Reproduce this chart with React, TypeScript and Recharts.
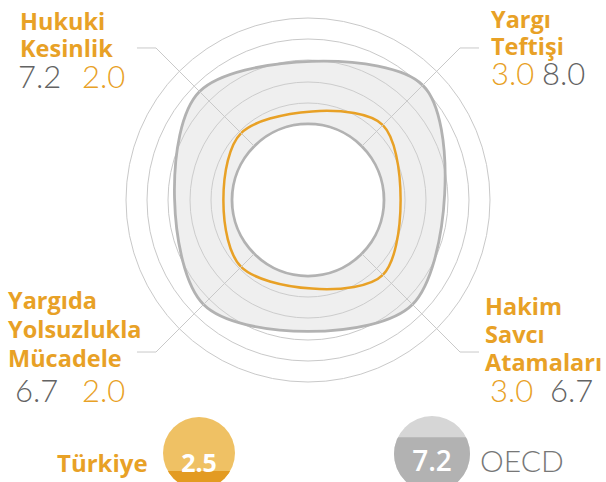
import React from "react";
import {
  RadarChart,
  Radar,
  PolarGrid,
  PolarAngleAxis,
  PolarRadiusAxis,
  BarChart,
  Bar,
  XAxis,
  YAxis,
} from "recharts";

const categories = [
  "Hukuki Kesinlik",
  "Yargı Teftişi",
  "Hakim Savcı Atamaları",
  "Yargıda Yolsuzlukla Mücadele",
];
const labelLines = [
  ["Hukuki", "Kesinlik"],
  ["Yargı", "Teftişi"],
  ["Hakim", "Savcı", "Atamaları"],
  ["Yargıda", "Yolsuzlukla", "Mücadele"],
];
const turkiyeScores = [2.0, 3.0, 3.0, 2.0];
const oecdScores = [7.2, 8.0, 6.7, 6.7];
const seriesNames = ["Türkiye", "OECD"];
const averageScores = [2.5, 7.2];

const data = categories.map((category, i) => ({
  category,
  turkiye: turkiyeScores[i],
  oecd: oecdScores[i],
}));

const ORANGE = "#E8A126";
const GRAY_TEXT = "#636363";
const FONT = "'Open Sans', sans-serif";
const LIGHT_FONT = "Lato, 'Open Sans', sans-serif";
const CX = 308;
const CY = 200;
const HOLE = 76; // white inner circle
const SCALE_START = 72; // radius of value 0
const SCALE_END = 185; // radius of value 10
const ELBOW = 215; // where the leader line turns horizontal
const gridRadii = [76, 97, 118, 140, 161, 182];

const RAD = Math.PI / 180;
const polar = (r: number, angle: number) => ({
  x: CX + r * Math.cos(-angle * RAD),
  y: CY + r * Math.sin(-angle * RAD),
});

// closed catmull-rom curve through the radar points
function smoothClosedPath(pts: { x: number; y: number }[]) {
  const n = pts.length;
  let d = `M${pts[0].x},${pts[0].y}`;
  for (let i = 0; i < n; i++) {
    const p0 = pts[(i - 1 + n) % n];
    const p1 = pts[i];
    const p2 = pts[(i + 1) % n];
    const p3 = pts[(i + 2) % n];
    const c1x = p1.x + (p2.x - p0.x) / 6;
    const c1y = p1.y + (p2.y - p0.y) / 6;
    const c2x = p2.x - (p3.x - p1.x) / 6;
    const c2y = p2.y - (p3.y - p1.y) / 6;
    d += ` C${c1x},${c1y} ${c2x},${c2y} ${p2.x},${p2.y}`;
  }
  return d + " Z";
}

const OecdShape = (props: any) => {
  const pts = props.points || [];
  if (!pts.length) return null;
  const hole = `M${CX + HOLE},${CY} A${HOLE},${HOLE} 0 1 0 ${CX - HOLE},${CY} A${HOLE},${HOLE} 0 1 0 ${CX + HOLE},${CY} Z`;
  return (
    <path
      d={smoothClosedPath(pts) + " " + hole}
      fillRule="evenodd"
      fill="#d4d4d4"
      fillOpacity={0.36}
      stroke="#b2b2b2"
      strokeWidth={2.8}
    />
  );
};

const TurkiyeShape = (props: any) => {
  const pts = props.points || [];
  if (!pts.length) return null;
  return <path d={smoothClosedPath(pts)} fill="none" stroke={ORANGE} strokeWidth={2.5} />;
};

// label blocks for each corner
const labelLayout = [
  { x: 20, lineY: [30, 57], valueY: 88, first: "oecd", xs: [18, 82] },
  { x: 491, lineY: [28, 55], valueY: 85, first: "turkiye", xs: [491, 542] },
  { x: 485, lineY: [315, 343, 371], valueY: 402, first: "turkiye", xs: [490, 550] },
  { x: 8, lineY: [309, 338, 367], valueY: 402, first: "oecd", xs: [15, 82] },
];

const CornerTick = (props: any) => {
  const { payload } = props;
  const i = categories.indexOf(payload.value);
  if (i < 0) return null;
  const start = polar(HOLE, payload.coordinate);
  const elbow = polar(ELBOW, payload.coordinate);
  const side = elbow.x < CX ? -1 : 1;
  const lay = labelLayout[i];
  const order =
    lay.first === "oecd"
      ? [
          { v: oecdScores[i], c: GRAY_TEXT },
          { v: turkiyeScores[i], c: ORANGE },
        ]
      : [
          { v: turkiyeScores[i], c: ORANGE },
          { v: oecdScores[i], c: GRAY_TEXT },
        ];
  return (
    <g>
      <polyline
        points={`${start.x},${start.y} ${elbow.x},${elbow.y} ${elbow.x + side * 19},${elbow.y}`}
        fill="none"
        stroke="#c9c9c9"
        strokeWidth={1}
      />
      {labelLines[i].map((t, k) => (
        <text
          key={t}
          x={lay.x}
          y={lay.lineY[k]}
          fill={ORANGE}
          fontFamily={FONT}
          fontWeight={700}
          fontSize={23.5}
        >
          {t}
        </text>
      ))}
      {order.map((o, k) => (
        <text
          key={k}
          x={lay.xs[k]}
          y={lay.valueY}
          fill={o.c}
          fontFamily={LIGHT_FONT}
          fontWeight={300}
          fontSize={31}
        >
          {o.v.toFixed(1)}
        </text>
      ))}
    </g>
  );
};

function Gauge({
  value,
  left,
  top,
  size,
  bg,
  fg,
  fontSize,
  weight,
}: {
  value: number;
  left: number;
  top: number;
  size: number;
  bg: string;
  fg: string;
  fontSize: number;
  weight: number;
}) {
  return (
    <div
      style={{
        position: "absolute",
        left,
        top,
        width: size,
        height: size,
        borderRadius: "50%",
        overflow: "hidden",
      }}
    >
      <BarChart
        width={size}
        height={size}
        data={[{ name: "v", v: value }]}
        margin={{ top: 0, right: 0, bottom: 0, left: 0 }}
        barCategoryGap={0}
      >
        <XAxis dataKey="name" hide />
        <YAxis domain={[0, 10]} hide />
        <Bar dataKey="v" fill={fg} background={{ fill: bg }} isAnimationActive={false} />
      </BarChart>
      <svg
        width={size}
        height={size}
        style={{ position: "absolute", left: 0, top: 0 }}
      >
        <text
          x={size / 2}
          y={55}
          textAnchor="middle"
          fill="#ffffff"
          fontFamily={FONT}
          fontWeight={weight}
          fontSize={fontSize}
        >
          {value.toFixed(1)}
        </text>
      </svg>
    </div>
  );
}

export default function App() {
  return (
    <div
      style={{
        position: "absolute",
        left: 0,
        top: 0,
        width: 606,
        height: 482,
        overflow: "hidden",
        background: "#ffffff",
      }}
    >
      <RadarChart
        width={606}
        height={482}
        cx={CX}
        cy={CY}
        innerRadius={SCALE_START}
        outerRadius={SCALE_END}
        startAngle={135}
        endAngle={-225}
        data={data}
        margin={{ top: 0, right: 0, bottom: 0, left: 0 }}
      >
        <PolarGrid
          gridType="circle"
          polarRadius={gridRadii}
          radialLines={false}
          stroke="#c9c9c9"
          strokeWidth={1}
        />
        <PolarRadiusAxis type="number" domain={[0, 10]} tick={false} axisLine={false} />
        <PolarAngleAxis
          dataKey="category"
          tick={<CornerTick />}
          tickLine={false}
          axisLine={false}
        />
        <Radar
          dataKey="oecd"
          name={seriesNames[1]}
          shape={<OecdShape />}
          isAnimationActive={false}
        />
        <Radar
          dataKey="turkiye"
          name={seriesNames[0]}
          shape={<TurkiyeShape />}
          isAnimationActive={false}
        />
      </RadarChart>

      <svg width={606} height={482} style={{ position: "absolute", left: 0, top: 0 }}>
        <text x={57} y={472} fill={ORANGE} fontFamily={FONT} fontWeight={700} fontSize={24}>
          {seriesNames[0]}
        </text>
        <text x={480} y={472} fill="#777777" fontFamily={LIGHT_FONT} fontWeight={300} fontSize={30}>
          {seriesNames[1]}
        </text>
      </svg>
      <Gauge
        value={averageScores[0]}
        left={163}
        top={417}
        size={72}
        bg="#EFC164"
        fg="#E39B22"
        fontSize={25}
        weight={700}
      />
      <Gauge
        value={averageScores[1]}
        left={394}
        top={416}
        size={76}
        bg="#D6D6D6"
        fg="#B2B2B2"
        fontSize={28}
        weight={600}
      />
    </div>
  );
}
